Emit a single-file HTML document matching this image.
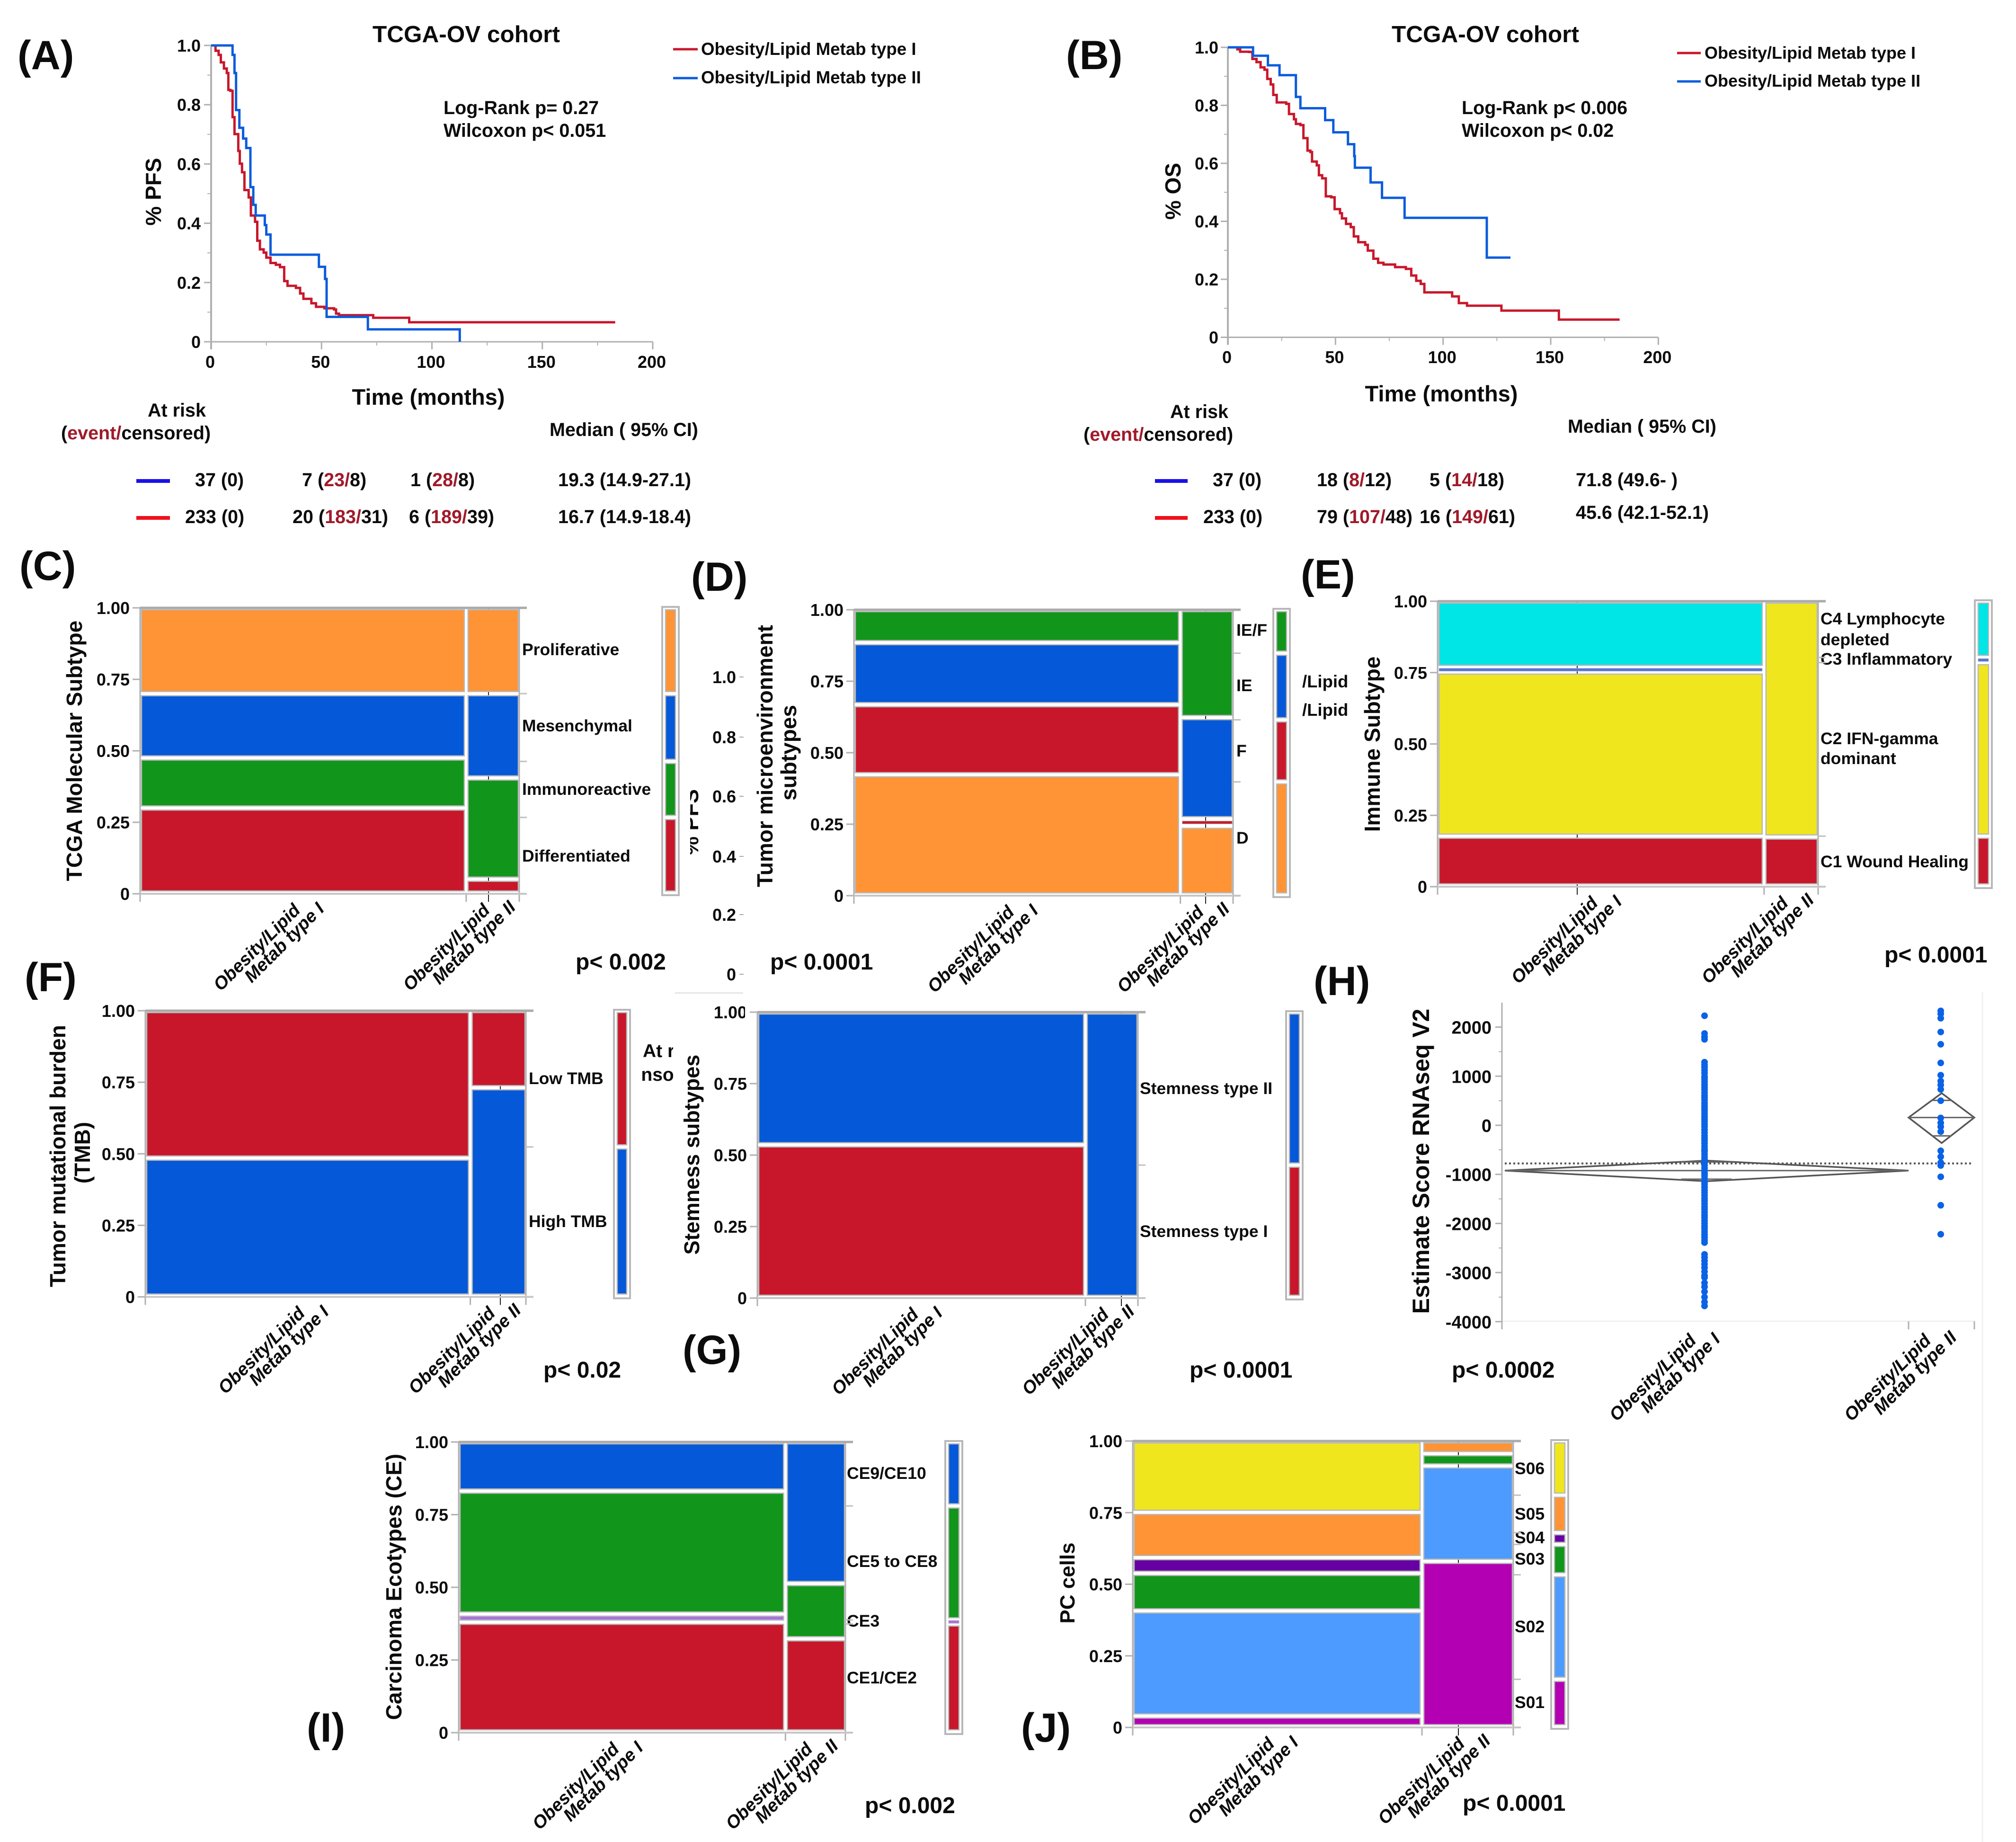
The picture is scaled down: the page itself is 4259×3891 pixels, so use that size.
<!DOCTYPE html>
<html lang="en">
<head>
<meta charset="utf-8">
<title>TCGA-OV Obesity/Lipid Metabolism type figure</title>
<style>
html,body{margin:0;padding:0;background:#fff}
svg{display:block}
text{font-family:"Liberation Sans",Arial,sans-serif;font-weight:bold;fill:#0c0c0c}
.ev{fill:#a01a2a}
.pl{font-size:86px}
.row{font-size:39.5px}
.cat{font-size:35.5px}
.pv{font-size:48px}
.axt{font-size:46px}
</style>
</head>
<body>
<svg id="fig" xmlns="http://www.w3.org/2000/svg" width="4259" height="3891" viewBox="0 0 4259 3891">
<defs>
<clipPath id="clipPfs"><rect x="1458" y="1600" width="24" height="260"/></clipPath>
<clipPath id="clipRisk"><rect x="1356" y="2180" width="66" height="130"/></clipPath>
</defs>
<rect width="4259" height="3891" fill="#fff"/>

<!-- stray underlying fragments visible in the source figure -->
<g>
<g font-size="36" text-anchor="end">
<text x="1555" y="1443">1.0</text>
<text x="1555" y="1570">0.8</text>
<text x="1555" y="1695">0.6</text>
<text x="1555" y="1822">0.4</text>
<text x="1555" y="1945">0.2</text>
<text x="1555" y="2071">0</text>
</g>
<g stroke="#aaa" stroke-width="2">
<line x1="1562" x2="1571" y1="1430" y2="1430"/>
<line x1="1562" x2="1571" y1="1557" y2="1557"/>
<line x1="1562" x2="1571" y1="1682" y2="1682"/>
<line x1="1562" x2="1571" y1="1809" y2="1809"/>
<line x1="1562" x2="1571" y1="1932" y2="1932"/>
<line x1="1562" x2="1571" y1="2058" y2="2058"/>
</g>
<g clip-path="url(#clipPfs)"><text font-size="45" text-anchor="middle" transform="translate(1475,1737) rotate(-90)">% PFS</text></g>
<text x="2751" y="1452" font-size="36.5">/Lipid</text>
<text x="2751" y="1512" font-size="36.5">/Lipid</text>
<g clip-path="url(#clipRisk)">
<text x="1358" y="2233" font-size="39">At risk</text>
<text x="1311" y="2283" font-size="39">censored</text>
</g>
<rect x="1426" y="2096" width="144" height="3" fill="#e6e6e6"/>
</g>

<!-- Panel letters -->
<g class="pl">
<text x="37" y="146">(A)</text>
<text x="2252" y="146">(B)</text>
<text x="41" y="1225">(C)</text>
<text x="1460" y="1248">(D)</text>
<text x="2748" y="1243">(E)</text>
<text x="52" y="2094">(F)</text>
<text x="1442" y="2881">(G)</text>
<text x="2775" y="2102">(H)</text>
<text x="648" y="3679">(I)</text>
<text x="2157" y="3679">(J)</text>
</g>

<!-- Panel A text -->
<g>
<text x="985" y="89" font-size="49.5" text-anchor="middle">TCGA-OV cohort</text>
<line x1="1422" x2="1474" y1="104" y2="104" stroke="#c8172a" stroke-width="5"/>
<text x="1481" y="116" font-size="36.7">Obesity/Lipid Metab type I</text>
<line x1="1422" x2="1474" y1="165" y2="165" stroke="#0a5cdc" stroke-width="5"/>
<text x="1481" y="176" font-size="36.7">Obesity/Lipid Metab type II</text>
<text x="937" y="241" font-size="39.5">Log-Rank p= 0.27</text>
<text x="937" y="289" font-size="39.5">Wilcoxon p&lt; 0.051</text>
<text x="905" y="855" font-size="47" text-anchor="middle">Time (months)</text>
<text class="axt" text-anchor="middle" transform="translate(340,405) rotate(-90)">% PFS</text>
<text x="312" y="880" class="row">At risk</text>
<text x="129" y="928" class="row">(<tspan class="ev">event/</tspan>censored)</text>
<text x="1161" y="921" class="row">Median ( 95% CI)</text>
<line x1="288" x2="359" y1="1016" y2="1016" stroke="#1a10e8" stroke-width="8"/>
<text x="412" y="1027" class="row">37 (0)</text>
<text x="638" y="1027" class="row">7 (<tspan class="ev">23/</tspan>8)</text>
<text x="867" y="1027" class="row">1 (<tspan class="ev">28/</tspan>8)</text>
<text x="1179" y="1027" class="row">19.3 (14.9-27.1)</text>
<line x1="288" x2="359" y1="1094" y2="1094" stroke="#f0101c" stroke-width="8"/>
<text x="391" y="1105" class="row">233 (0)</text>
<text x="618" y="1105" class="row">20 (<tspan class="ev">183/</tspan>31)</text>
<text x="864" y="1105" class="row">6 (<tspan class="ev">189/</tspan>39)</text>
<text x="1179" y="1105" class="row">16.7 (14.9-18.4)</text>
</g>

<!-- Panel B text -->
<g>
<text x="3138" y="89" font-size="49.5" text-anchor="middle">TCGA-OV cohort</text>
<line x1="3543" x2="3593" y1="112" y2="112" stroke="#c8172a" stroke-width="5"/>
<text x="3601" y="124" font-size="36">Obesity/Lipid Metab type I</text>
<line x1="3543" x2="3593" y1="172" y2="172" stroke="#0a5cdc" stroke-width="5"/>
<text x="3601" y="183" font-size="36">Obesity/Lipid Metab type II</text>
<text x="3088" y="241" font-size="39.5">Log-Rank p&lt; 0.006</text>
<text x="3088" y="289" font-size="39.5">Wilcoxon p&lt; 0.02</text>
<text x="3045" y="848" font-size="47" text-anchor="middle">Time (months)</text>
<text class="axt" text-anchor="middle" transform="translate(2494,404) rotate(-90)">% OS</text>
<text x="2472" y="883" class="row">At risk</text>
<text x="2289" y="931" class="row">(<tspan class="ev">event/</tspan>censored)</text>
<text x="3312" y="914" class="row">Median ( 95% CI)</text>
<line x1="2440" x2="2509" y1="1016" y2="1016" stroke="#1a10e8" stroke-width="8"/>
<text x="2562" y="1027" class="row">37 (0)</text>
<text x="2782" y="1027" class="row">18 (<tspan class="ev">8/</tspan>12)</text>
<text x="3020" y="1027" class="row">5 (<tspan class="ev">14/</tspan>18)</text>
<text x="3329" y="1027" class="row">71.8 (49.6- )</text>
<line x1="2440" x2="2509" y1="1094" y2="1094" stroke="#f0101c" stroke-width="8"/>
<text x="2542" y="1105" class="row">233 (0)</text>
<text x="2782" y="1105" class="row">79 (<tspan class="ev">107/</tspan>48)</text>
<text x="2999" y="1105" class="row">16 (<tspan class="ev">149/</tspan>61)</text>
<text x="3329" y="1096" class="row">45.6 (42.1-52.1)</text>
</g>

<!-- Mosaic titles, category labels and p values -->
<g>
<text class="axt" text-anchor="middle" transform="translate(173,1586) rotate(-90)">TCGA Molecular Subtype</text>
<text x="1103" y="1384" class="cat">Proliferative</text>
<text x="1103" y="1545" class="cat">Mesenchymal</text>
<text x="1103" y="1679" class="cat">Immunoreactive</text>
<text x="1103" y="1820" class="cat">Differentiated</text>
<text x="1216" y="2048" class="pv">p&lt; 0.002</text>
</g>
<g>
<text class="axt" text-anchor="middle" transform="translate(1632,1597) rotate(-90)">Tumor microenvironment</text>
<text class="axt" text-anchor="middle" transform="translate(1682,1590) rotate(-90)">subtypes</text>
<text x="2612" y="1343" class="cat">IE/F</text>
<text x="2612" y="1460" class="cat">IE</text>
<text x="2612" y="1598" class="cat">F</text>
<text x="2612" y="1782" class="cat">D</text>
<text x="1627" y="2048" class="pv">p&lt; 0.0001</text>
</g>
<g>
<text class="axt" text-anchor="middle" transform="translate(2915,1572) rotate(-90)">Immune Subtype</text>
<text x="3846" y="1319" class="cat">C4 Lymphocyte</text>
<text x="3846" y="1363" class="cat">depleted</text>
<text x="3846" y="1404" class="cat">C3 Inflammatory</text>
<text x="3846" y="1572" class="cat">C2 IFN-gamma</text>
<text x="3846" y="1614" class="cat">dominant</text>
<text x="3846" y="1832" class="cat">C1 Wound Healing</text>
<text x="3981" y="2033" class="pv">p&lt; 0.0001</text>
</g>
<g>
<text class="axt" text-anchor="middle" transform="translate(138,2442) rotate(-90)">Tumor mutational burden</text>
<text class="axt" text-anchor="middle" transform="translate(190,2435) rotate(-90)">(TMB)</text>
<text x="1117" y="2290" class="cat">Low TMB</text>
<text x="1117" y="2592" class="cat">High TMB</text>
<text x="1148" y="2910" class="pv">p&lt; 0.02</text>
</g>
<g>
<text font-size="45" text-anchor="middle" transform="translate(1477,2439) rotate(-90)">Stemness subtypes</text>
<text x="2408" y="2311" class="cat">Stemness type II</text>
<text x="2408" y="2613" class="cat">Stemness type I</text>
<text x="2513" y="2910" class="pv">p&lt; 0.0001</text>
</g>
<g>
<text font-size="50" text-anchor="middle" transform="translate(3019,2453) rotate(-90)">Estimate Score RNAseq V2</text>
<text x="3067" y="2910" class="pv">p&lt; 0.0002</text>
</g>
<g>
<text class="axt" text-anchor="middle" transform="translate(848,3352) rotate(-90)">Carcinoma Ecotypes (CE)</text>
<text x="1789" y="3124" class="cat">CE9/CE10</text>
<text x="1789" y="3310" class="cat">CE5 to CE8</text>
<text x="1789" y="3436" class="cat">CE3</text>
<text x="1789" y="3556" class="cat">CE1/CE2</text>
<text x="1827" y="3830" class="pv">p&lt; 0.002</text>
</g>
<g>
<text font-size="44" text-anchor="middle" transform="translate(2270,3344) rotate(-90)">PC cells</text>
<text x="3200" y="3114" class="cat">S06</text>
<text x="3200" y="3210" class="cat">S05</text>
<text x="3200" y="3260" class="cat">S04</text>
<text x="3200" y="3305" class="cat">S03</text>
<text x="3200" y="3448" class="cat">S02</text>
<text x="3200" y="3608" class="cat">S01</text>
<text x="3090" y="3825" class="pv">p&lt; 0.0001</text>
</g>
</svg>

<script>
/* ---------- Kaplan-Meier data (months, survival fraction after the drop) ---------- */
const kmTimeTicks = [0, 50, 100, 150, 200];
const kmTimeMinor = [25, 75, 125, 175];
const kmSurvTicks = [0, 0.2, 0.4, 0.6, 0.8, 1];
const kmSurvTickLabels = ['0', '0.2', '0.4', '0.6', '0.8', '1.0'];
const kmSurvMinor = [0.1, 0.3, 0.5, 0.7, 0.9];

const pfsType1Time = [2,3.4,4.4,5.8,7.1,7.8,8.7,9.7,10.6,12.3,13,14,15.1,17,18,19.9,20.9,22.1,23.8,25,26.9,29.3,31.2,33.1,34.6,38.4,40.3,41.8,45.4,47.5,51.3,55.7,56.6,57.9,73.4,89.7];
const pfsType1Surv = [.982,.968,.943,.922,.907,.85,.847,.758,.701,.644,.601,.572,.512,.487,.426,.405,.341,.312,.301,.284,.266,.26,.252,.205,.189,.182,.163,.145,.13,.118,.113,.109,.095,.09,.081,.066];
const pfsType1End = 183;
const pfsType2Time = [9.7,10.6,11.3,12.8,14.5,15.9,17.8,19.1,20.2,24.3,25,26.9,48.8,51.6,52.3,71,112.6];
const pfsType2Surv = [.968,.907,.782,.722,.686,.654,.522,.462,.426,.394,.362,.294,.253,.212,.084,.042,0];
const pfsType2End = 112.6;

const osType1Time = [4.4,5.7,9.8,11.4,13.3,15.2,17,18.3,19.9,21.1,22.7,27.1,28.4,30.7,31.6,33.7,35.1,37,38.3,39.1,41.3,42.3,43.8,45.5,48,49.6,52.1,53,54.9,57.1,58.5,60.6,63.8,65,67.6,69.8,72.3,77.7,82.7,85.2,87.5,89.6,91.3,104.2,107.3,111.1,127.1,153.8];
const osType1Surv = [.993,.985,.984,.96,.949,.931,.923,.891,.872,.836,.81,.805,.77,.752,.736,.732,.687,.644,.639,.606,.593,.559,.548,.486,.483,.442,.428,.41,.391,.38,.348,.328,.319,.299,.271,.257,.251,.242,.236,.213,.195,.184,.155,.141,.118,.109,.092,.061];
const osType1End = 182;
const osType2Time = [11.7,18.6,24,31.6,33.7,45.2,49,55.8,58.7,59,66.3,71.6,82.1,120.3];
const osType2Surv = [.971,.938,.904,.829,.79,.749,.707,.666,.625,.585,.534,.481,.412,.275];
const osType2End = 131.3;

/* ---------- Mosaic data: shares of each category, bottom to top ---------- */
const mosaicTicks = [0, 0.25, 0.5, 0.75, 1];
const mosaicTickLabels = ['0', '0.25', '0.50', '0.75', '1.00'];

const subtypeColors = ['#c8172a', '#11961b', '#0558d8', '#ff9436'];
const subtypeType1 = [.30, .175, .225, .30];
const subtypeType2 = [.051, .354, .295, .30];
const subtypeOverall = [.267, .196, .237, .30];
const subtypeWidthType1 = .86;

const tmeColors = ['#ff9436', '#c8172a', '#0558d8', '#11961b'];
const tmeType1 = [.423, .245, .217, .115];
const tmeType2 = [.243, .026, .354, .377];
const tmeOverall = [.398, .217, .233, .152];
const tmeWidthType1 = .861;

const immuneColors = ['#c8172a', '#f0e61e', '#4f72e0', '#00e5e5'];
const immuneType1 = [.177, .575, .016, .232];
const immuneType2 = [.174, .826, 0, 0];
const immuneOverall = [.177, .608, .018, .197];
const immuneWidthType1 = .858;

const tmbColors = ['#0558d8', '#c8172a'];
const tmbType1 = [.485, .515];
const tmbType2 = [.731, .269];
const tmbOverall = [.524, .476];
const tmbWidthType1 = .854;

const stemColors = ['#c8172a', '#0558d8'];
const stemType1 = [.536, .464];
const stemType2 = [0, 1];
const stemOverall = [.465, .535];
const stemWidthType1 = .862;

const ceColors = ['#c8172a', '#a870e0', '#11961b', '#0558d8'];
const ceType1 = [.380, .028, .423, .169];
const ceType2 = [.323, 0, .190, .487];
const ceOverall = [.374, .014, .392, .22];
const ceWidthType1 = .845;

const pcColors = ['#b300b3', '#4d9bff', '#11961b', '#6600a3', '#ff9436', '#f0e61e'];
const pcType1 = [.04, .367, .131, .055, .158, .249];
const pcType2 = [.58, .333, .043, 0, .044, 0];
const pcOverall = [.168, .365, .106, .041, .131, .189];
const pcWidthType1 = .76;

/* ---------- Estimate score data ---------- */
const estimateTicks = [-4000, -3000, -2000, -1000, 0, 1000, 2000];
const estimateTickLabels = ['-4000', '-3000', '-2000', '-1000', '0', '1000', '2000'];
const estimateMinor = [-3500, -2500, -1500, -500, 500, 1500];
const estimateType1 = [2231,1870,1800,1750,1285,1230,1180,1120,1060,990,945,890,830,780,730,670,610,570,520,455,400,350,300,240,180,130,80,20,-30,-90,-150,-210,-260,-310,-370,-430,-490,-530,-590,-650,-700,-760,-810,-870,-930,-980,-1030,-1090,-1150,-1200,-1260,-1320,-1370,-1430,-1490,-1540,-1600,-1660,-1710,-1770,-1830,-1880,-1940,-2000,-2060,-2110,-2170,-2230,-2280,-2340,-2390,-2630,-2690,-2760,-2830,-2900,-2980,-3060,-3100,-3210,-3290,-3390,-3500,-3600,-3680];
const estimateType2 = [2330,2270,2180,1900,1650,1270,1020,900,820,730,500,150,50,-30,-130,-520,-640,-760,-820,-1050,-1630,-2220];
const estimateMeans = [-923, 158];
const estimateCiHigh = [-720, 654];
const estimateCiLow = [-1140, -362];
const estimateOverlapHigh = [-748, 508];
const estimateOverlapLow = [-1098, -216];
const estimateGrandMean = -777;

/* ---------- Drawing helpers ---------- */
const NS = 'http://www.w3.org/2000/svg';
const fig = document.getElementById('fig');

function mk(tag, attrs, parent, name) {
  const el = document.createElementNS(NS, tag);
  for (const k in attrs) el.setAttribute(k, attrs[k]);
  
  
  parent.appendChild(el);
  return el;
}
function line(parent, x1, y1, x2, y2, color, width, name) {
  return mk('line', {x1: x1, y1: y1, x2: x2, y2: y2, stroke: color, 'stroke-width': width}, parent, name);
}
function label(parent, str, x, y, size, anchor, name, transform) {
  const attrs = {x: x, y: y, 'font-size': size, 'text-anchor': anchor};
  if (transform) attrs.transform = transform;
  const el = mk('text', attrs, parent, name);
  el.textContent = str;
  return el;
}

/* ---------- Kaplan-Meier chart ---------- */
function stepPath(times, surv, end, x, y) {
  let d = 'M' + x(0) + ' ' + y(1);
  for (let i = 0; i < times.length; i++) {
    d += 'H' + x(times[i]).toFixed(1) + 'V' + y(surv[i]).toFixed(1);
  }
  return d + 'H' + x(end).toFixed(1);
}
function drawKM(cfg) {
  const g = mk('g', {}, fig, cfg.key + '-km-chart');
  const x = t => cfg.x0 + cfg.xs * t;
  const y = s => cfg.y0 - cfg.ys * s;
  const grey = '#b0b0b0';
  line(g, x(0), y(1), x(0), cfg.y0 + 16, grey, 4, 'y-axis-line');
  line(g, x(0) - 15, cfg.y0, x(200), cfg.y0, grey, 3, 'x-axis-line');
  kmSurvTicks.forEach((v, i) => {
    line(g, x(0) - 15, y(v), x(0), y(v), grey, 3, 'y-tick');
    label(g, kmSurvTickLabels[i], cfg.yLabelX, y(v) + 13, 36, 'end', 'y-tick-label');
  });
  kmSurvMinor.forEach(v => {
    line(g, x(0) - 8, y(v), x(0), y(v), grey, 2, 'y-minor-tick');
  });
  kmTimeTicks.forEach(v => {
    line(g, x(v), cfg.y0, x(v), cfg.y0 + 16, grey, 3, 'x-tick');
    label(g, String(v), x(v) - 2, cfg.xLabelBase, 36, 'middle', 'x-tick-label');
  });
  kmTimeMinor.forEach(v => {
    line(g, x(v), cfg.y0, x(v), cfg.y0 + 8, grey, 2, 'x-minor-tick');
  });
  mk('path', {d: stepPath(cfg.t1, cfg.s1, cfg.e1, x, y), fill: 'none', stroke: '#c8172a', 'stroke-width': 5}, g, 'survival-curve-type-1');
  mk('path', {d: stepPath(cfg.t2, cfg.s2, cfg.e2, x, y), fill: 'none', stroke: '#0a5cdc', 'stroke-width': 5}, g, 'survival-curve-type-2');
}
drawKM({key: 'panel-a', x0: 446, xs: 4.665, y0: 722, ys: 626, yLabelX: 424, xLabelBase: 777,
  t1: pfsType1Time, s1: pfsType1Surv, e1: pfsType1End, t2: pfsType2Time, s2: pfsType2Surv, e2: pfsType2End});
drawKM({key: 'panel-b', x0: 2594, xs: 4.547, y0: 712.5, ys: 612.5, yLabelX: 2574, xLabelBase: 767,
  t1: osType1Time, s1: osType1Surv, e1: osType1End, t2: osType2Time, s2: osType2Surv, e2: osType2End});

/* ---------- Mosaic chart ---------- */
function stack(parent, shares, colors, left, right, y, name) {
  let cum = 0;
  shares.forEach((share, i) => {
    const lo = cum, hi = cum + share;
    cum = hi;
    if (share <= 0) return;
    const bottom = lo === 0 ? y(0) - 6 : y(lo) - 4.5;
    const top = hi >= 0.9999 ? y(1) + 4 : y(hi) + 4.5;
    let h = bottom - top, ty = top, sw = 2.5;
    if (h < 7) {
      ty = (bottom + top) / 2 - 3;
      h = 6;
      sw = 1;
    }
    mk('rect', {x: left, y: ty, width: right - left, height: h, fill: colors[i], stroke: '#b8b8b8', 'stroke-width': sw}, parent, name + '-segment-' + i);
  });
}
function xLabel(parent, cx, y0, second, dy) {
  const bx = cx + (dy ? dy[0] : -89), by = y0 + (dy ? dy[1] : 122);
  label(parent, 'Obesity/Lipid', bx, by, 38, 'middle', 'x-label-line-1', 'rotate(-45 ' + bx + ' ' + by + ')').setAttribute('font-style', 'italic');
  const lx = bx + 58, ly = by - 10;
  label(parent, second, lx, ly, 38, 'middle', 'x-label-line-2', 'rotate(-45 ' + lx + ' ' + ly + ')').setAttribute('font-style', 'italic');
}
function drawMosaic(c) {
  const g = mk('g', {}, fig, c.key + '-mosaic-chart');
  const y = f => c.y0 - (c.y0 - c.y1) * f;
  const split = c.x0 + (c.x1 - c.x0) * c.share;
  const grey = '#b0b0b0';
  if (c.black) line(g, c.black, c.y1, c.black, c.y0 + 17, '#222', 2, 'category-tick');
  line(g, c.x0, c.y0 + 3, c.x0, c.y1, grey, 3, 'y-axis-line');
  line(g, c.x1, c.y1, c.x1, c.y0 + 17, grey, 3, 'right-axis-line');
  line(g, c.x0, c.y0, c.x0, c.y0 + 17, grey, 3, 'x-tick');
  line(g, split, c.y0, split, c.y0 + 17, grey, 3, 'x-tick');
  line(g, split, c.y1, split, c.y0, '#fff', 4, 'column-gap');
  line(g, c.x0, c.y1, c.x1 + 16, c.y1, '#aaa', 5, 'top-axis-line');
  line(g, c.x0 - 2, c.y0, c.x1 + 16, c.y0, '#c6c6c6', 4, 'x-axis-line');
  mosaicTicks.forEach((v, i) => {
    line(g, c.x0 - 16, y(v), c.x0, y(v), grey, 3, 'y-tick');
    label(g, mosaicTickLabels[i], c.x0 - 22, y(v) + 13, 36, 'end', 'y-tick-label');
  });
  let m = 0;
  c.overall.slice(0, -1).forEach(v => {
    m += v;
    line(g, c.x1, y(m), c.x1 + 16, y(m), '#c0c0c0', 3, 'right-tick');
  });
  stack(g, c.col1, c.colors, c.x0 + 3, split - 4, y, 'type-1');
  stack(g, c.col2, c.colors, split + 4, c.x1 - 2, y, 'type-2');
  mk('rect', {x: c.barL, y: c.y1 - 2, width: c.barR - c.barL, height: c.y0 - c.y1 + 5, fill: 'none', stroke: '#b8b8b8', 'stroke-width': 4}, g, 'marginal-bar-frame');
  stack(g, c.overall, c.colors, c.barL + 7, c.barR - 7, y, 'marginal');
  xLabel(g, (c.x0 + split) / 2, c.y0, 'Metab type I', c.l1);
  xLabel(g, (split + c.x1) / 2, c.y0, 'Metab type II', c.l2);
}
drawMosaic({key: 'panel-c', x0: 296, x1: 1097, y0: 1888, y1: 1284, share: subtypeWidthType1, colors: subtypeColors, col1: subtypeType1, col2: subtypeType2, overall: subtypeOverall, barL: 1399, barR: 1434, black: 1032});
drawMosaic({key: 'panel-d', x0: 1804, x1: 2605, y0: 1892, y1: 1288, share: tmeWidthType1, colors: tmeColors, col1: tmeType1, col2: tmeType2, overall: tmeOverall, barL: 2690, barR: 2725, black: 2547});
drawMosaic({key: 'panel-e', x0: 3037, x1: 3841, y0: 1873, y1: 1270, share: immuneWidthType1, colors: immuneColors, col1: immuneType1, col2: immuneType2, overall: immuneOverall, barL: 4172, barR: 4208, black: 3332});
drawMosaic({key: 'panel-f', x0: 307, x1: 1111, y0: 2739.5, y1: 2135, share: tmbWidthType1, colors: tmbColors, col1: tmbType1, col2: tmbType2, overall: tmbOverall, barL: 1297, barR: 1331, black: 1057});
drawMosaic({key: 'panel-g', x0: 1600, x1: 2404, y0: 2742, y1: 2138, share: stemWidthType1, colors: stemColors, col1: stemType1, col2: stemType2, overall: stemOverall, barL: 2717, barR: 2752, black: 2369});
drawMosaic({key: 'panel-i', x0: 969, x1: 1786, y0: 3660, y1: 3046, share: ceWidthType1, colors: ceColors, col1: ceType1, col2: ceType2, overall: ceOverall, barL: 1997, barR: 2033});
drawMosaic({key: 'panel-j', x0: 2393, x1: 3197, y0: 3649, y1: 3044, share: pcWidthType1, colors: pcColors, col1: pcType1, col2: pcType2, overall: pcOverall, barL: 3277, barR: 3313, black: 3081});

/* clip of the panel G top tick label seen in the source */
const clipCover = mk('rect', {x: 1574, y: 2115, width: 10, height: 45, fill: '#fff'}, fig, 'panel-g-tick-clip');

/* ---------- Estimate score one-way plot ---------- */
(function drawEstimate() {
  const g = mk('g', {}, fig, 'panel-h-oneway-chart');
  const y = v => 2377 - v * 0.1037;
  const xAxis = 3173, mid = 4032, right = 4171;
  const centers = [3601, 4100];
  const apex = [3605, 4102];
  const lefts = [3179, 4032];
  const rights = [4032, 4171];
  const markFactor = [0.125, 0.3];
  const grey = '#b0b0b0';
  line(g, 4188, 2095, 4188, 3891, '#f0f0f0', 3, 'right-edge');
  line(g, xAxis, 2791, 4171, 2791, '#f0f0f0', 3, 'x-axis-line');
  line(g, xAxis, 2118, xAxis, 2808, grey, 3, 'y-axis-line');
  line(g, mid, 2791, mid, 2808, grey, 3, 'x-tick');
  line(g, right, 2791, right, 2808, grey, 3, 'x-tick');
  estimateTicks.forEach((v, i) => {
    line(g, xAxis - 14, y(v), xAxis, y(v), grey, 3, 'y-tick');
    label(g, estimateTickLabels[i], 3151, y(v) + 14, 38, 'end', 'y-tick-label');
  });
  estimateMinor.forEach(v => {
    line(g, xAxis - 7, y(v), xAxis, y(v), grey, 2, 'y-minor-tick');
  });
  estimateMeans.forEach((mean, k) => {
    const pts = [lefts[k] + ',' + y(mean), apex[k] + ',' + y(estimateCiHigh[k]), rights[k] + ',' + y(mean), apex[k] + ',' + y(estimateCiLow[k])].join(' ');
    mk('polygon', {points: pts, fill: 'none', stroke: '#555', 'stroke-width': 3.5}, g, 'mean-diamond-type-' + (k + 1));
    line(g, lefts[k], y(mean), rights[k], y(mean), '#666', 3, 'mean-line-type-' + (k + 1));
    const hw = (rights[k] - lefts[k]) / 2 * markFactor[k];
    line(g, apex[k] - hw, y(estimateOverlapHigh[k]), apex[k] + hw, y(estimateOverlapHigh[k]), '#666', 3, 'overlap-mark-high');
    line(g, apex[k] - hw, y(estimateOverlapLow[k]), apex[k] + hw, y(estimateOverlapLow[k]), '#666', 3, 'overlap-mark-low');
  });
  const gm = line(g, 3179, y(estimateGrandMean), 4167, y(estimateGrandMean), '#555', 4, 'grand-mean-line');
  gm.setAttribute('stroke-dasharray', '4 5');
  const dots = [estimateType1, estimateType2];
  dots.forEach((vals, k) => {
    vals.forEach(v => {
      mk('circle', {cx: centers[k], cy: y(v), r: 7, fill: '#0a62e6'}, g, 'point-type-' + (k + 1));
    });
  });
  xLabel(g, (xAxis + mid) / 2, 2791, 'Metab type I', [-102, 128]);
  xLabel(g, (mid + right) / 2, 2791, 'Metab type II', [-105, 128]);
})();
</script>
</body>
</html>
